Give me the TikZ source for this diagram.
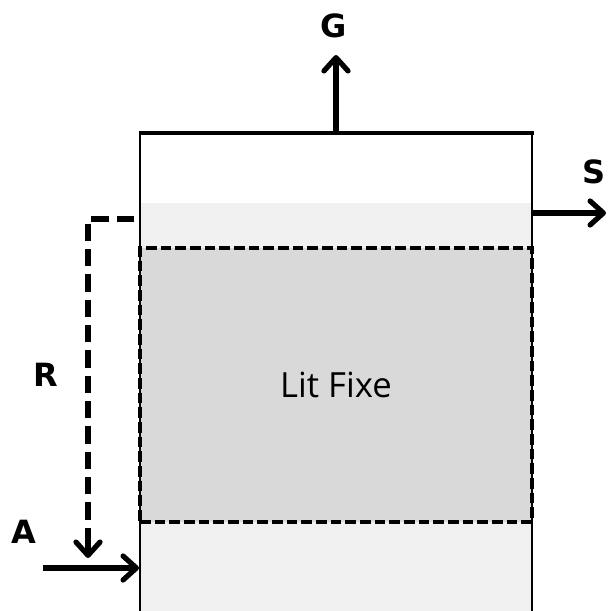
\documentclass[tikz,border=0pt]{standalone}
\usepackage{fontspec}
\setmainfont{Open Sans}
\newfontfamily\lettrefont{DejaVu Sans}
\usetikzlibrary{positioning,arrows.meta}
\definecolor{grisclair}{HTML}{F0F0F0}
\definecolor{grislit}{HTML}{D9D9D9}

\begin{document}
\begin{tikzpicture}[
  x=0.75pt, y=-0.75pt,
  paroi/.style={line width=2.2pt},
  lit/.style={draw, fill=grislit, dash pattern=on 8pt off 3pt, line width=2.6pt, minimum width=294pt, minimum height=205.5pt, inner sep=0pt, font=\fontsize{26}{30}\selectfont},
  fleche/.style={-{Straight Barb[round, length=10pt, width=18pt]}, line width=3.9pt},
  tiret/.style={dash pattern=on 13pt off 6pt, line width=4.4pt},
  lettre/.style={font=\lettrefont\bfseries\fontsize{24}{28}\selectfont, inner sep=0pt}
]
\useasboundingbox (0,0) rectangle (609,611);
\clip (0,0) rectangle (609,611);
\fill[grisclair] (140,203) rectangle (532,615);
\node[lit] (lit) at (336,385) {\raisebox{-4pt}{Lit Fixe}};
\draw[paroi] (140,615) -- (140,133) (532,133) -- (532,615);
\draw[paroi, line width=3.2pt] (138.5,133) -- (533.5,133);
% sortie gaz
\coordinate (haut) at (336,133);
\coordinate (gaz) at (336,55);
\node[lettre] (g) at (334,26) {G};
\draw[fleche] (haut) -- (gaz);
% sortie solide
\coordinate (droite) at (532,213);
\coordinate (solide) at (606,213);
\node[lettre] (s) at (594,172) {S};
\draw[fleche] (droite) -- (solide);
% entree
\coordinate (entree) at (43,568);
\coordinate (bas) at (139,568);
\node[lettre] (a) at (24,532) {A};
\draw[fleche] (entree) -- (bas);
% recyclage
\coordinate (depart) at (134,219);
\coordinate (coin) at (88,219);
\coordinate (retour) at (88,558);
\node[lettre] (r) at (46,375) {R};
\draw[tiret] (depart) -- (coin) -- ([yshift=6pt]retour);
\draw[fleche] ([yshift=12pt]retour) -- (retour);
\end{tikzpicture}
\end{document}
